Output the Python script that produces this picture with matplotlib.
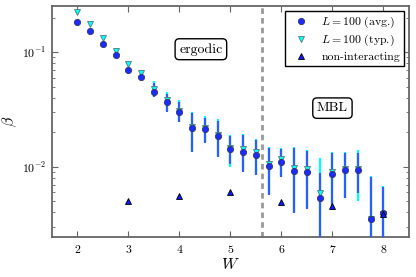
import numpy as np
import matplotlib
matplotlib.use("Agg")
import matplotlib.pyplot as plt

plt.rcParams['font.family'] = 'serif'
plt.rcParams['font.serif'] = ['cmr10', 'DejaVu Serif']
plt.rcParams['mathtext.fontset'] = 'cm'
plt.rcParams['axes.formatter.use_mathtext'] = True

# disorder strength
W = [2.0, 2.25, 2.5, 2.75, 3.0, 3.25, 3.5, 3.75, 4.0, 4.25, 4.5, 4.75, 5.0,
     5.25, 5.5, 5.75, 6.0, 6.25, 6.5, 6.75, 7.0, 7.25, 7.5, 7.75, 8.0]

# L = 100, average
beta_avg = [0.1816, 0.1516, 0.1181, 0.0936, 0.0701, 0.0602, 0.0451, 0.0364, 0.0302,
            0.0216, 0.0212, 0.0186, 0.01426, 0.01352, 0.01265, 0.0102, 0.01107,
            0.00923, 0.00904, 0.00537, 0.00864, 0.00935, 0.00935, 0.00348, 0.00393]
avg_hi = [0.186, 0.156, 0.122, 0.097, 0.073, 0.063, 0.0534, 0.0431, 0.0364,
          0.0292, 0.0264, 0.0250, 0.0185, 0.0189, 0.0171, 0.01466, 0.0142,
          0.01466, 0.01378, 0.00876, 0.0131, 0.0131, 0.0132, 0.00808, 0.0067]
avg_lo = [0.177, 0.147, 0.114, 0.090, 0.067, 0.057, 0.0403, 0.0298, 0.0244,
          0.0135, 0.0160, 0.0122, 0.0105, 0.00904, 0.00848, 0.00566, 0.0081,
          0.00393, 0.00426, 0.001, 0.0042, 0.0053, 0.00586, 0.0005, 0.0005]

# L = 100, typical
beta_typ = [0.2234, 0.1744, 0.1332, 0.1026, 0.0781, 0.0652, 0.0476, 0.0382, 0.0305,
            0.0223, 0.0216, 0.0188, 0.0145, 0.0142, 0.01336, 0.01056, 0.0116,
            0.00968, 0.0095, 0.00593, 0.00904, 0.0095, 0.0096, 0.0035, 0.0039]
typ_hi = [0.229, 0.179, 0.137, 0.106, 0.081, 0.068, 0.056, 0.045, 0.038,
          0.030, 0.0275, 0.026, 0.019, 0.0195, 0.0175, 0.0150, 0.0147,
          0.0150, 0.0140, 0.0119, 0.0134, 0.0134, 0.0140, 0.0083, 0.0068]
typ_lo = [0.218, 0.170, 0.129, 0.099, 0.075, 0.062, 0.0410, 0.0305, 0.0250,
          0.0140, 0.0165, 0.0125, 0.0100, 0.0093, 0.0087, 0.0058, 0.0083,
          0.0040, 0.0044, 0.001, 0.0043, 0.0054, 0.00502, 0.0005, 0.0005]

# non-interacting
W_ni = [3, 4, 5, 6, 7, 8]
beta_ni = [0.00499, 0.00555, 0.00602, 0.0049, 0.00454, 0.0039]

W_c = 5.62

fig = plt.figure(figsize=(4.16, 2.77), dpi=100)
ax = fig.add_axes([0.125, 0.144, 0.858, 0.834])

b_typ = np.array(beta_typ)
b_avg = np.array(beta_avg)
ax.errorbar(W, beta_typ, yerr=[b_typ - np.array(typ_lo), np.array(typ_hi) - b_typ],
            fmt='none', ecolor='cyan', elinewidth=1.6, zorder=2)
ax.errorbar(W, beta_avg, yerr=[b_avg - np.array(avg_lo), np.array(avg_hi) - b_avg],
            fmt='none', ecolor='#2f5cff', elinewidth=1.6, zorder=3)
ax.plot(W, beta_typ, 'v', color='cyan', mec='#557777', mew=0.6, ms=4.5, zorder=4,
        label=r'$L=100$ (typ.)')
ax.plot(W, beta_avg, 'o', color='#1a2cff', mec='#333366', mew=0.6, ms=4.5, zorder=5,
        label=r'$L=100$ (avg.)')
ax.plot(W_ni, beta_ni, '^', color='#0a1aff', mec='black', mew=0.6, ms=4.5, zorder=6,
        label='non-interacting')

ax.axvline(W_c, color='#999999', ls=(0, (2, 1.5)), lw=2, zorder=1)

ax.set_yscale('log')
ax.set_xlim(1.5, 8.5)
ax.set_ylim(0.00244, 0.252)
ax.set_xlabel(r'$W$', fontsize=11.5, labelpad=2)
ax.set_ylabel(r'$\beta$', fontsize=11.5, labelpad=2)

for s in ax.spines.values():
    s.set_color('#666666')
    s.set_linewidth(1.3)
ax.tick_params(which='both', direction='in', top=True, right=True, color='#666666',
               labelsize=8.5, pad=4)
ax.tick_params(which='major', length=4)
ax.tick_params(which='minor', length=2)
ax.set_xticks([2, 3, 4, 5, 6, 7, 8])

handles, labels = ax.get_legend_handles_labels()
order = [1, 0, 2]
ax.legend([handles[i] for i in order], [labels[i] for i in order], loc='upper right',
          fontsize=8.5, numpoints=1, fancybox=False, edgecolor='black', framealpha=1,
          borderaxespad=0.4, borderpad=0.35, handlelength=2.0, handletextpad=0.7,
          labelspacing=0.25)

bbox = dict(boxstyle='round,pad=0.3', fc='white', ec='black', lw=1.0)
ax.text(4.42, 0.106, 'ergodic', fontsize=10, ha='center', va='center', bbox=bbox)
ax.text(7.0, 0.0325, 'MBL', fontsize=10, ha='center', va='center', bbox=bbox)

fig.savefig('out.png', dpi=100)
